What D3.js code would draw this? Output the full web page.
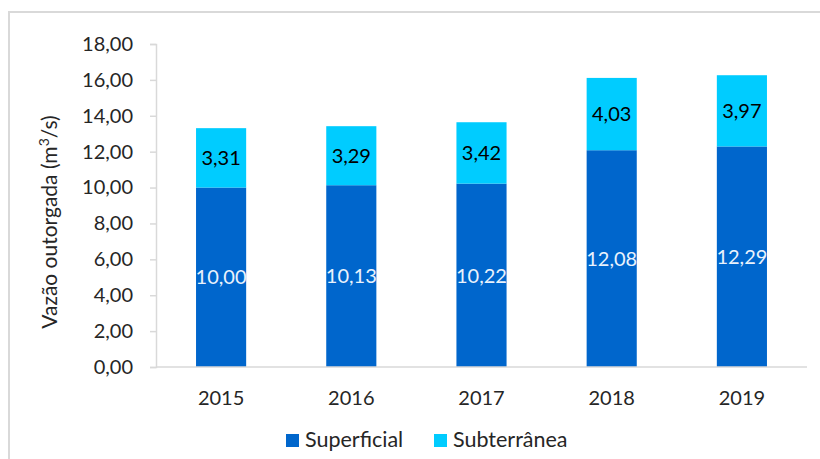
<!DOCTYPE html>
<html>
<head>
<meta charset="utf-8">
<script src="https://cdn.jsdelivr.net/npm/d3@7"></script>
<style>
  html, body { margin: 0; padding: 0; background: #fff; }
  svg { display: block; }
  text { font-family: Lato, "Open Sans", sans-serif; }
</style>
</head>
<body>
<script>
// Vazão outorgada por ano, separada por origem da água
const years = ["2015", "2016", "2017", "2018", "2019"];
const superficial = [10.00, 10.13, 10.22, 12.08, 12.29];
const subterranea = [3.31, 3.29, 3.42, 4.03, 3.97];
const yTicks = [0, 2, 4, 6, 8, 10, 12, 14, 16, 18];
const seriesNames = ["Superficial", "Subterrânea"];

const W = 820, H = 459;
const colors = { Superficial: "#0066cc", "Subterrânea": "#00ccff" };
const fmt = v => d3.format(".2f")(v).replace(".", ",");

const svg = d3.select("body").append("svg")
  .attr("width", W).attr("height", H);

// chart frame
svg.append("rect")
  .attr("x", 9).attr("y", 12)
  .attr("width", W + 10).attr("height", H + 10)
  .attr("fill", "none").attr("stroke", "#d9d9d9").attr("stroke-width", 2);

const plot = { left: 156, right: 807, top: 44, bottom: 367 };

const x = d3.scaleBand().domain(years)
  .range([plot.left, plot.right]).paddingInner(0.615).paddingOuter(0.3075);
const y = d3.scaleLinear().domain([0, 18]).range([plot.bottom, plot.top]);

const rows = years.map((yr, i) => ({ year: yr, Superficial: superficial[i], "Subterrânea": subterranea[i] }));
const stacked = d3.stack().keys(seriesNames)(rows);

// bars
const layers = svg.append("g").selectAll("g").data(stacked).join("g")
  .attr("fill", d => colors[d.key]);
layers.selectAll("rect").data(d => d).join("rect")
  .attr("x", d => x(d.data.year))
  .attr("width", x.bandwidth())
  .attr("y", d => y(d[1]))
  .attr("height", d => y(d[0]) - y(d[1]));

// value labels centred in each segment
stacked.forEach(layer => {
  svg.append("g").selectAll("text").data(layer).join("text")
    .attr("x", d => x(d.data.year) + x.bandwidth() / 2)
    .attr("y", d => y((d[0] + d[1]) / 2))
    .attr("dy", "0.36em")
    .attr("text-anchor", "middle")
    .attr("font-size", 20)
    .attr("fill", layer.key === "Superficial" ? "#eaf2fc" : "#000")
    .text(d => fmt(d.data[layer.key]));
});

// y axis
const yAxis = svg.append("g")
  .attr("transform", `translate(${plot.left},0)`)
  .call(d3.axisLeft(y).tickValues(yTicks).tickSize(6).tickPadding(17).tickFormat(fmt));
yAxis.select(".domain").attr("stroke", "#d9d9d9").attr("stroke-width", 1.5);
yAxis.selectAll(".tick line").attr("stroke", "#d9d9d9").attr("stroke-width", 1.5);
yAxis.selectAll(".tick text").attr("font-size", 20).attr("fill", "#262626")
  .style("font-family", "Lato, sans-serif");

// x axis
const xAxis = svg.append("g")
  .attr("transform", `translate(0,${plot.bottom})`)
  .call(d3.axisBottom(x).tickSize(0).tickPadding(24));
xAxis.select(".domain").attr("stroke", "#d9d9d9").attr("stroke-width", 1.5)
  .attr("d", `M${plot.left},0H${plot.right}`);
xAxis.selectAll(".tick text").attr("font-size", 20).attr("fill", "#262626")
  .style("font-family", "Lato, sans-serif");

// y axis title
svg.append("text")
  .attr("transform", "translate(57,222) rotate(-90)")
  .attr("text-anchor", "middle")
  .attr("font-size", 21)
  .attr("fill", "#262626")
  .html("Vazão outorgada (m<tspan dy='-8' font-size='14'>3</tspan><tspan dy='8'>/s)</tspan>");

// legend
const legend = svg.append("g");
const legendX = [286, 434];
seriesNames.forEach((name, i) => {
  const g = legend.append("g").attr("transform", `translate(${legendX[i]},434)`);
  g.append("rect").attr("width", 13).attr("height", 13).attr("fill", colors[name]);
  g.append("text").attr("x", 19).attr("y", 13)
    .attr("font-size", 21.5).attr("fill", "#262626").text(name);
});
</script>
</body>
</html>
